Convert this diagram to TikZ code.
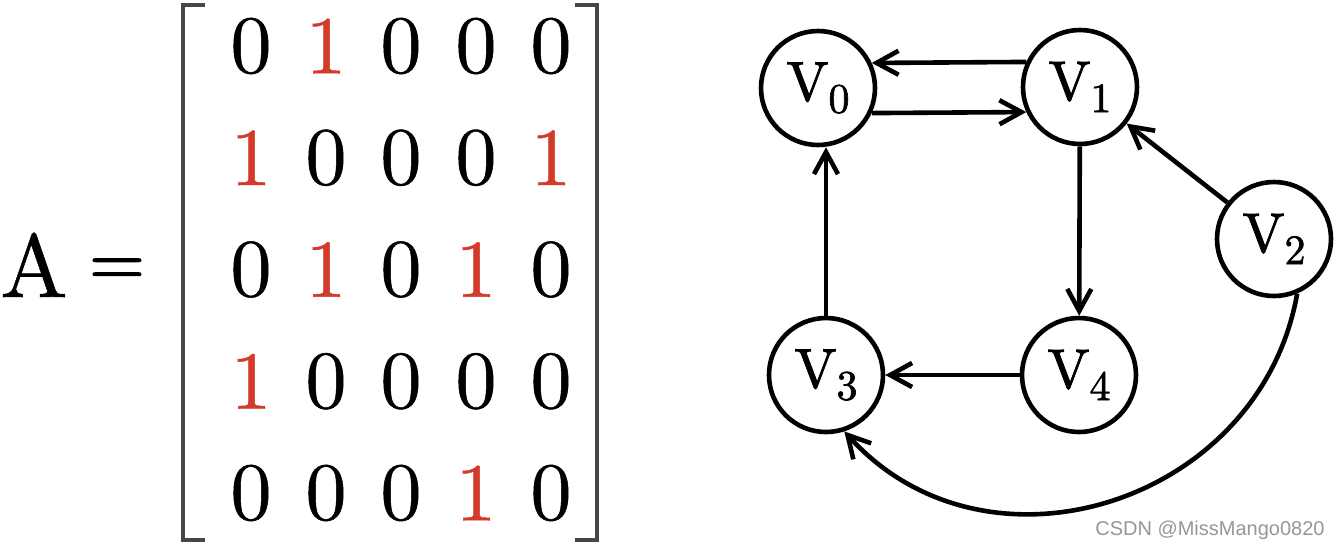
\documentclass[tikz,border=0pt]{standalone}
\usepackage{fontspec}
\usetikzlibrary{arrows.meta,calc}
\definecolor{red1}{RGB}{212,58,42}
\definecolor{brk}{RGB}{70,70,70}
\definecolor{wmgray}{RGB}{150,150,150}
\newfontfamily\wmfont{Liberation Sans}
\newfontfamily\mfont[FakeBold=1.6]{lmroman10-regular.otf}
\newfontfamily\dfont[FakeBold=0.6]{lmroman10-regular.otf}
\newcommand\Vsub[1]{V\raisebox{-6pt}{\fontsize{21}{21}\selectfont #1}}
\begin{document}
\begin{tikzpicture}[x=0.5pt,y=-0.5pt,
  vnode/.style={circle,draw,line width=2.3pt,minimum size=57pt,inner sep=0pt,font=\mfont\fontsize{28}{30}\selectfont},
  arr/.style={line width=2.3pt,-{Straight Barb[length=11pt,width=12pt,line width=2.3pt]}},
  entry/.style={inner sep=0pt,font=\dfont\fontsize{41}{41}\selectfont},
  e0/.style={entry,text=black},
  e1/.style={entry,text=red1},
  brack/.style={line width=1.6pt,draw=brk}]
\useasboundingbox (0,0) rectangle (1340,548);
% A =
\node[anchor=base,inner sep=0pt,font=\dfont\fontsize{45}{45}\selectfont] (A) at (34,297) {A};
\node[inner sep=0pt,font=\mfont\fontsize{36}{36}\selectfont] (eq) at (117,272) {=};
% brackets
\draw[brack] (205,5) -| (183,540) -- (205,540);
\draw[brack] (575,5) -| (597,540) -- (575,540);
% entries
\foreach \rowvals [count=\i] in {{0,1,0,0,0},{1,0,0,0,1},{0,1,0,1,0},{1,0,0,0,0},{0,0,0,1,0}} {
  \foreach \v [count=\j] in \rowvals {
    \node[e\v] (m-\i-\j) at ({251+75*(\j-1)},{46+111.75*(\i-1)}) {\v};
  }
}
% graph
\node[vnode] (V0) at (818,88) {\Vsub0};
\node[vnode] (V1) at (1080,87) {\Vsub1};
\node[vnode] (V2) at (1274,239) {\Vsub2};
\node[vnode] (V3) at (826,375) {\Vsub3};
\node[vnode] (V4) at (1079,375) {\Vsub4};
\draw[arr] (V1.155) -- (V0.25);
\draw[arr] (V0.-25) -- (V1.-155);
\draw[arr] (V3.north) -- (V3.north |- V0.south);
\draw[arr] (V1) -- (V4);
\draw[arr] (V4) -- (V3);
\draw[arr] (V2) -- (V1);
\draw[arr] (V2.-67) to[out=-100,in=-48,looseness=1.15] (V3.-72);
% watermark
\node[anchor=east,inner sep=0pt,font=\wmfont\fontsize{10}{12}\selectfont,text=wmgray] (wm) at (1325,530) {CSDN @MissMango0820};
\end{tikzpicture}
\end{document}
